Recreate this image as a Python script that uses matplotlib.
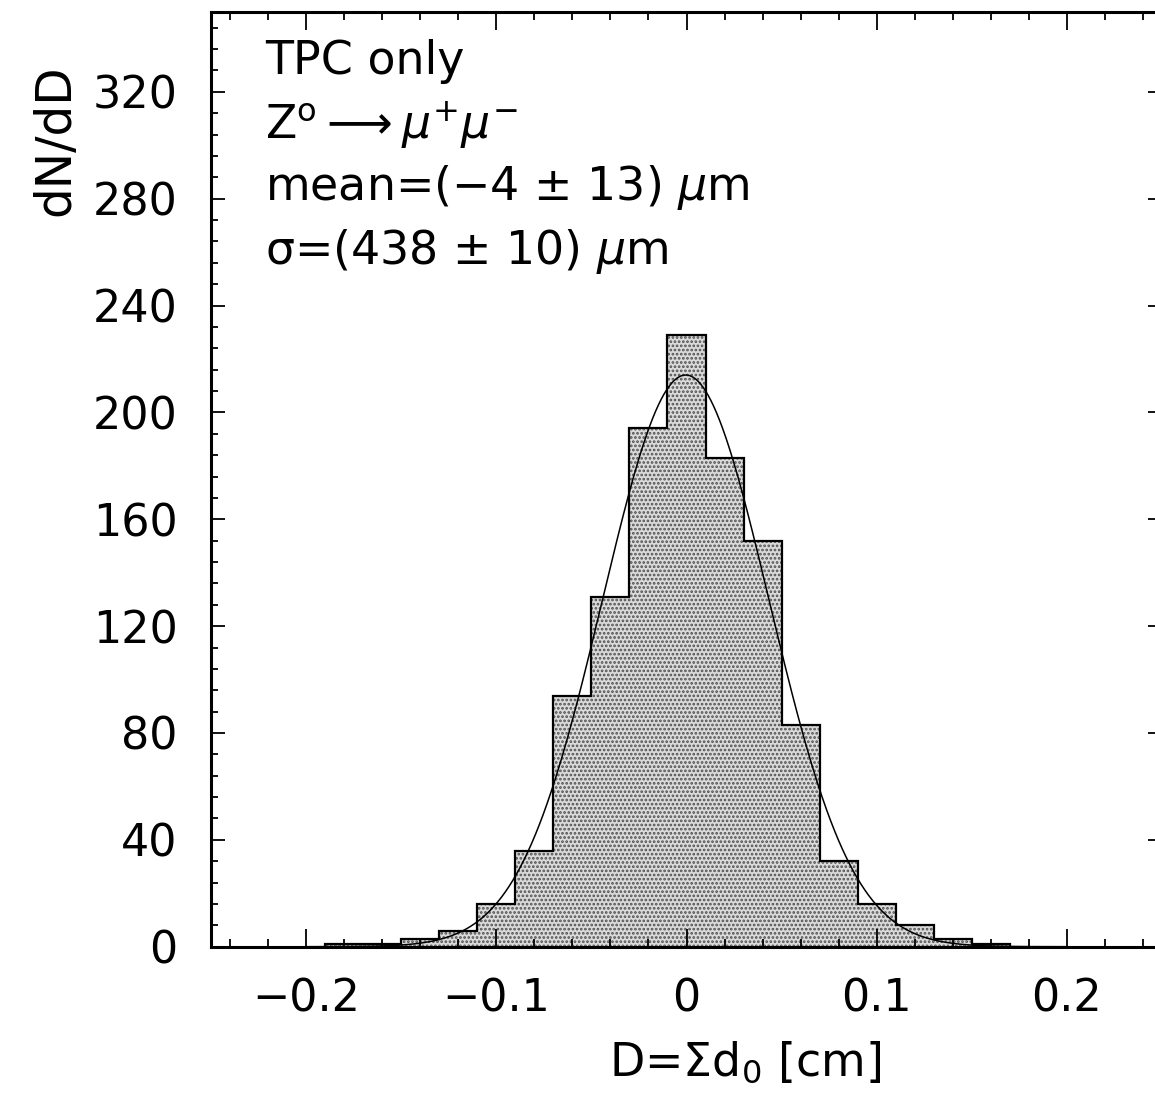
import numpy as np
import matplotlib
matplotlib.use("Agg")
import matplotlib.pyplot as plt
from matplotlib.ticker import MultipleLocator

# histogram of D = sum d0, bin width 0.02 cm
bin_centers = [-0.18, -0.16, -0.14, -0.12, -0.10, -0.08, -0.06, -0.04, -0.02,
               0.0, 0.02, 0.04, 0.06, 0.08, 0.10, 0.12, 0.14, 0.16]
counts = [1, 1, 3, 6, 16, 36, 94, 131, 194,
          229, 183, 152, 83, 32, 16, 8, 3, 1]
bin_width = 0.02

# gaussian fit parameters (cm)
fit_amp = 214
fit_mean = -0.0004
fit_sigma = 0.0438

text_lines = ["TPC only",
              r"Z$^{\rm o}$$\longrightarrow$$\mu^{+}\mu^{-}$",
              r"mean=(−4 ± 13) $\mu$m",
              r"σ=(438 ± 10) $\mu$m"]

plt.rcParams['font.family'] = ['DejaVu Sans']
plt.rcParams['hatch.linewidth'] = 1.3

fig = plt.figure(figsize=(11.55, 10.93), dpi=100)
ax = fig.add_axes([211 / 1155, 1 - 946.7 / 1093, (1162 - 211) / 1155, (946.7 - 11.7) / 1093])

edges = np.concatenate([np.array(bin_centers) - bin_width / 2,
                        [bin_centers[-1] + bin_width / 2]])
ax.stairs(counts, edges, fill=True, facecolor='#dadada', edgecolor='#505050',
          hatch='....', linewidth=0)
ax.stairs(counts, edges, baseline=0, color='black', linewidth=1.6)

xs = np.linspace(-0.2, 0.2, 800)
ax.plot(xs, fit_amp * np.exp(-0.5 * ((xs - fit_mean) / fit_sigma) ** 2),
        color='black', linewidth=1.1)

ax.set_xlim(-0.25, 0.25)
ax.set_ylim(0, 350)
ax.xaxis.set_minor_locator(MultipleLocator(0.02))
ax.yaxis.set_major_locator(MultipleLocator(40))
ax.yaxis.set_minor_locator(MultipleLocator(8))
ax.set_xticks([-0.2, -0.1, 0, 0.1, 0.2])
ax.set_xticklabels(["−0.2", "−0.1", "0", "0.1", "0.2"])
ax.tick_params(which='both', direction='in', top=True, right=True,
               labelsize=32, width=1.3)
ax.tick_params(axis='x', which='major', length=13, pad=22)
ax.tick_params(axis='x', which='minor', length=6)
ax.tick_params(axis='y', which='major', length=10, pad=24)
ax.tick_params(axis='y', which='minor', length=5)
for s in ax.spines.values():
    s.set_linewidth(2.2)

for i, t in enumerate(text_lines):
    fig.text(265 / 1155, 1 - (62 + i * 63) / 1093, t, fontsize=33,
             ha='left', va='center')

fig.text(55 / 1155, 1 - 140 / 1093, "dN/dD", rotation=90, fontsize=35,
         ha='center', va='center')
fig.text(745 / 1155, 1 - 1063 / 1093, r"D=$\Sigma$d$_{0}$ [cm]", fontsize=33,
         ha='center', va='center')

fig.savefig("out.png", dpi=100)
